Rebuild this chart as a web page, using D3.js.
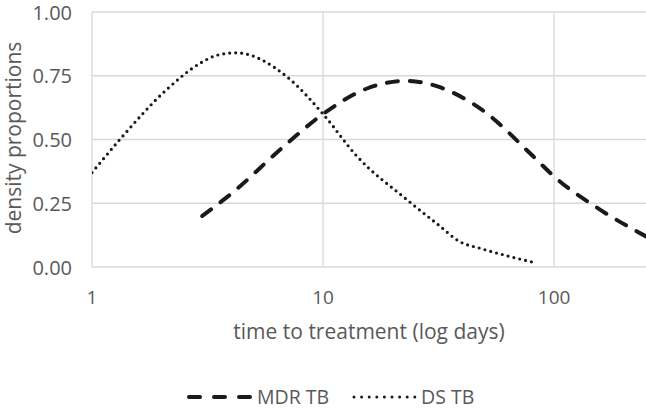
<!DOCTYPE html>
<html>
<head>
<meta charset="utf-8">
<script src="https://cdn.jsdelivr.net/npm/d3@7"></script>
<style>
  body { margin: 0; background: #fff; }
  svg { display: block; font-family: "Open Sans", sans-serif; }
</style>
</head>
<body>
<script>
// time to treatment (days) and density
var mdrDays = [3, 4.1, 6.7, 10, 15.5, 23, 32, 49, 81, 100, 158, 250];
var mdrDensity = [0.20, 0.295, 0.47, 0.60, 0.70, 0.73, 0.705, 0.615, 0.435, 0.355, 0.225, 0.12];
var dsDays = [1, 1.32, 2.1, 2.95, 3.46, 4.2, 7, 10, 14, 23, 31.6, 39, 48, 62.6, 80];
var dsDensity = [0.37, 0.50, 0.695, 0.80, 0.83, 0.84, 0.745, 0.60, 0.435, 0.265, 0.165, 0.10, 0.073, 0.044, 0.02];
var xTicks = [1, 10, 100];
var yTicks = [0, 0.25, 0.5, 0.75, 1];

var width = 646, height = 409;
var plotL = 92, plotR = 646, plotT = 12, plotB = 267;

var svg = d3.select("body").append("svg").attr("width", width).attr("height", height);

var x = d3.scaleLog().domain([1, 250]).range([plotL, plotR]);
var y = d3.scaleLinear().domain([0, 1]).range([plotB, plotT]);

svg.append("clipPath").attr("id", "plot")
  .append("rect").attr("x", plotL).attr("y", 0).attr("width", plotR - plotL).attr("height", plotB + 10);

// gridlines
svg.selectAll("line.hgrid")
  .data(yTicks)
  .enter().append("line")
  .attr("class", "hgrid")
  .attr("x1", plotL).attr("x2", plotR)
  .attr("y1", function(d) { return y(d); })
  .attr("y2", function(d) { return y(d); })
  .attr("stroke", "#d9d9d9").attr("stroke-width", 1.3);
svg.selectAll("line.vgrid")
  .data(xTicks)
  .enter().append("line")
  .attr("class", "vgrid")
  .attr("x1", function(d) { return x(d); })
  .attr("x2", function(d) { return x(d); })
  .attr("y1", y(1)).attr("y2", y(0))
  .attr("stroke", "#d9d9d9").attr("stroke-width", 1.3);

// tick labels
svg.selectAll("text.ylab")
  .data(yTicks)
  .enter().append("text")
  .attr("class", "ylab")
  .attr("x", 72)
  .attr("y", function(d) { return y(d); })
  .attr("text-anchor", "end")
  .attr("dominant-baseline", "central")
  .attr("fill", "#595959")
  .attr("font-size", 20)
  .text(function(d) { return d3.format(".2f")(d); });
svg.selectAll("text.xlab")
  .data(xTicks)
  .enter().append("text")
  .attr("class", "xlab")
  .attr("x", function(d) { return x(d); })
  .attr("y", 297)
  .attr("text-anchor", "middle")
  .attr("dominant-baseline", "central")
  .attr("fill", "#595959")
  .attr("font-size", 19)
  .text(function(d) { return d; });

// axis titles
svg.append("text")
  .attr("x", 369).attr("y", 331)
  .attr("text-anchor", "middle")
  .attr("dominant-baseline", "central")
  .attr("fill", "#595959")
  .attr("font-size", 21)
  .text("time to treatment (log days)");
svg.append("text")
  .attr("transform", "translate(13,138) rotate(-90)")
  .attr("text-anchor", "middle")
  .attr("dominant-baseline", "central")
  .attr("fill", "#595959")
  .attr("font-size", 21)
  .text("density proportions");

var line = d3.line()
  .x(function(d) { return x(d[0]); })
  .y(function(d) { return y(d[1]); })
  .curve(d3.curveMonotoneX);

var g = svg.append("g").attr("clip-path", "url(#plot)");
g.append("path")
  .attr("d", line(d3.zip(mdrDays, mdrDensity)))
  .attr("fill", "none")
  .attr("stroke", "#1a1a1a")
  .attr("stroke-width", 4)
  .attr("stroke-linecap", "round")
  .attr("stroke-dasharray", "11,12");
g.append("path")
  .attr("d", line(d3.zip(dsDays, dsDensity)))
  .attr("fill", "none")
  .attr("stroke", "#1a1a1a")
  .attr("stroke-width", 3.2)
  .attr("stroke-linecap", "round")
  .attr("stroke-dasharray", "0,6");

// legend
var legend = svg.append("g");
legend.append("line")
  .attr("x1", 189).attr("x2", 250).attr("y1", 397).attr("y2", 397)
  .attr("stroke", "#1a1a1a").attr("stroke-width", 4)
  .attr("stroke-linecap", "round").attr("stroke-dasharray", "11,14");
legend.append("text")
  .attr("x", 257).attr("y", 396)
  .attr("dominant-baseline", "central")
  .attr("fill", "#595959").attr("font-size", 19.5)
  .text("MDR TB");
legend.append("line")
  .attr("x1", 354).attr("x2", 415).attr("y1", 397).attr("y2", 397)
  .attr("stroke", "#1a1a1a").attr("stroke-width", 3)
  .attr("stroke-linecap", "round").attr("stroke-dasharray", "0,7.6");
legend.append("text")
  .attr("x", 421).attr("y", 396)
  .attr("dominant-baseline", "central")
  .attr("fill", "#595959").attr("font-size", 19.5)
  .text("DS TB");
</script>
</body>
</html>
